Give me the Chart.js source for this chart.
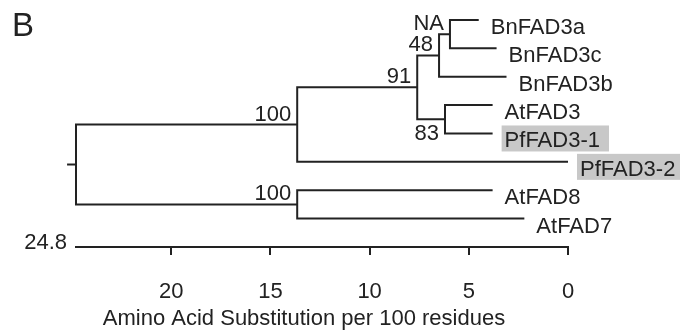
<!DOCTYPE html>
<html>
<head>
<meta charset="utf-8">
<script src="https://cdn.jsdelivr.net/npm/chart.js@4.4.0/dist/chart.umd.min.js"></script>
<style>
  html, body { margin: 0; padding: 0; background: #fff; }
  #wrap { width: 680px; height: 332px; }
</style>
</head>
<body>
<div id="wrap"><canvas id="treeChart"></canvas></div>
<script>
// leaves, top to bottom
const leafNames = ['BnFAD3a', 'BnFAD3c', 'BnFAD3b', 'AtFAD3', 'PfFAD3-1', 'PfFAD3-2', 'AtFAD8', 'AtFAD7'];
// where each tip sits on the distance axis
const leafDist = [4.5, 3.6, 3.1, 3.8, 3.8, 0, 3.8, 2.2];
const highlighted = ['PfFAD3-1', 'PfFAD3-2'];

// internal nodes; children point to leaves (L#) or earlier nodes (N#)
const nodeChildren = [['L0', 'L1'], ['N0', 'L2'], ['L3', 'L4'], ['N1', 'N2'], ['N3', 'L5'], ['L6', 'L7'], ['N4', 'N5']];
const nodeDist = [5.95, 6.5, 6.2, 7.6, 13.65, 13.65, 24.8];
const nodeSupport = ['NA', '48', '83', '91', '100', '100', ''];
const labelBelow = [false, false, true, false, false, false, false];

const axisMax = 24.8;
const rootStub = 0.45;
const axisTitle = 'Amino Acid Substitution per 100 residues';

const FONT = '"Liberation Sans", Arial, Helvetica, sans-serif';
const INK = '#222';

// row of each leaf / node (nodes sit halfway between their children)
const leafRow = leafNames.map((_, i) => i);
const nodeRow = [];

function ref(id) {
  const i = +id.slice(1);
  return id[0] === 'L' ? { x: leafDist[i], y: leafRow[i] } : { x: nodeDist[i], y: nodeRow[i] };
}

nodeChildren.forEach((kids, i) => {
  nodeRow[i] = (ref(kids[0]).y + ref(kids[1]).y) / 2;
});

const lineStyle = {
  showLine: true,
  borderColor: INK,
  borderWidth: 2,
  pointRadius: 0,
  tension: 0,
  borderJoinStyle: 'miter',
  borderCapStyle: 'butt',
  clip: false
};

// each node drawn as one bracket: tip a -> node -> tip b
const datasets = nodeChildren.map((kids, i) => {
  const a = ref(kids[0]);
  const b = ref(kids[1]);
  return {
    data: [a, { x: nodeDist[i], y: a.y }, { x: nodeDist[i], y: b.y }, b],
    ...lineStyle
  };
});

const rootIdx = nodeChildren.length - 1;
datasets.push({
  data: [{ x: nodeDist[rootIdx], y: nodeRow[rootIdx] }, { x: nodeDist[rootIdx] + rootStub, y: nodeRow[rootIdx] }],
  ...lineStyle
});

const treeText = {
  id: 'treeText',
  afterDatasetsDraw(chart) {
    const { ctx, scales: { x, y } } = chart;
    ctx.save();
    ctx.font = '22px ' + FONT;
    ctx.textBaseline = 'alphabetic';

    // leaf names, with grey boxes behind the Perilla genes
    leafNames.forEach((name, i) => {
      const px = x.getPixelForValue(leafDist[i]) + 12;
      const py = y.getPixelForValue(leafRow[i]);
      const w = ctx.measureText(name).width;
      if (highlighted.includes(name)) {
        ctx.fillStyle = '#c8c8c8';
        ctx.fillRect(px - 3, py - 8, w + 12, 26);
      }
      ctx.fillStyle = INK;
      ctx.textAlign = 'left';
      ctx.fillText(name, px, py + 14);
    });

    // bootstrap values
    ctx.textAlign = 'right';
    nodeSupport.forEach((s, i) => {
      if (!s) return;
      const px = x.getPixelForValue(nodeDist[i]) - 6;
      const py = y.getPixelForValue(nodeRow[i]);
      ctx.fillText(s, px, labelBelow[i] ? py + 21 : py - 4);
    });

    // value at the left end of the scale
    ctx.textBaseline = 'middle';
    ctx.fillText(String(axisMax), x.getPixelForValue(axisMax) - 9, x.top - 4);

    // axis title
    ctx.textAlign = 'center';
    ctx.textBaseline = 'alphabetic';
    ctx.fillText(axisTitle, 304, 325);

    // panel letter
    ctx.textAlign = 'left';
    ctx.font = '33px ' + FONT;
    ctx.fillText('B', 12, 36);
    ctx.restore();
  }
};

new Chart(document.getElementById('treeChart'), {
  type: 'scatter',
  data: { datasets },
  options: {
    responsive: true,
    maintainAspectRatio: false,
    animation: false,
    layout: { padding: { left: 76, right: 112, top: 10, bottom: 0 } },
    plugins: {
      legend: { display: false },
      tooltip: { enabled: false }
    },
    scales: {
      x: {
        type: 'linear',
        min: 0,
        max: axisMax,
        reverse: true,
        ticks: {
          stepSize: 5,
          includeBounds: false,
          color: INK,
          font: { size: 22, family: FONT },
          padding: 24,
          maxRotation: 0
        },
        grid: { drawOnChartArea: false, drawTicks: true, tickLength: 8, color: INK, lineWidth: 2 },
        border: { display: true, color: INK, width: 2 },
        afterFit(scale) { scale.height = 85; }
      },
      y: {
        type: 'linear',
        min: -0.35,
        max: 8,
        reverse: true,
        display: false
      }
    }
  },
  plugins: [treeText]
});
</script>
</body>
</html>
